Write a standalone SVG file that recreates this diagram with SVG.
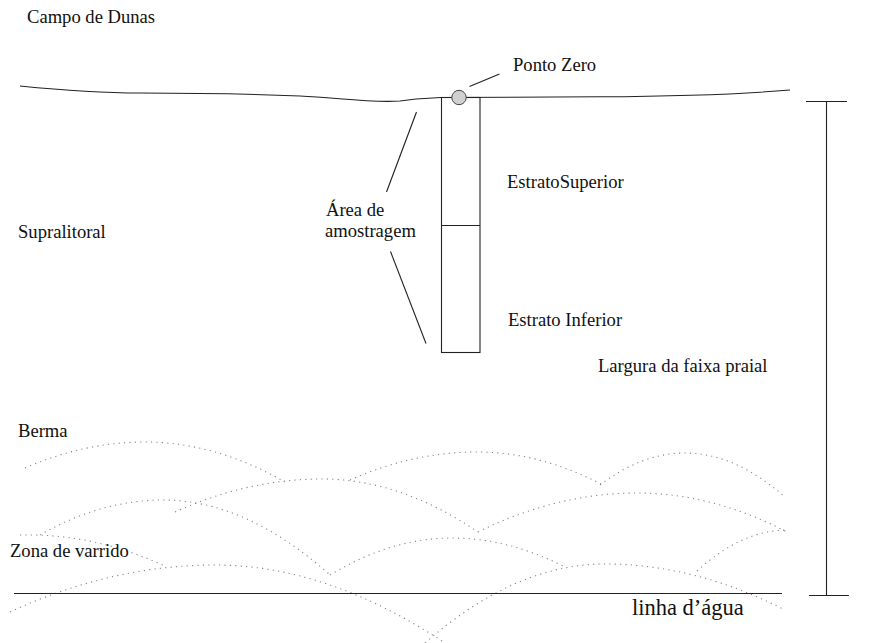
<svg xmlns="http://www.w3.org/2000/svg" width="886" height="643" viewBox="0 0 886 643">
<style>
text{font-family:"Liberation Serif","Times New Roman",serif;font-size:18.6px;fill:#111}
.ln{fill:none;stroke:#222;stroke-width:1.1}
.dot{fill:none;stroke:#888;stroke-width:1.1;stroke-dasharray:1.2 4.2}
</style>
<rect width="886" height="643" fill="#fff"/>
<g id="ground">
<path class="ln" d="M20,86 C60,90 100,93 140,93 C200,93 250,94 300,96 C340,98 370,103 400,101 L416,99 L441,97.5 L600,96.8 Q720,96 790,90"/>
</g>
<g id="swash">
<path class="dot" d="M25,468 Q85,442 145,442 Q215,442 285,482"/>
<path class="dot" d="M350,480 Q413,452 477,452 Q541,452 605,486"/>
<path class="dot" d="M600,485 Q642,453 685,453 Q735,453 785,497"/>
<path class="dot" d="M40,535 Q101,500 163,500 Q246,500 330,575"/>
<path class="dot" d="M175,512 Q248,479 322,479 Q400,479 478,532"/>
<path class="dot" d="M478,532 Q557,493 637,493 Q712,493 787,532"/>
<path class="dot" d="M20,535 L30,535 Q97,535 165,566"/>
<path class="dot" d="M10,612 Q112,565 215,565 Q327,565 445,643"/>
<path class="dot" d="M330,575 Q391,538 452,538 Q508,538 565,567"/>
<path class="dot" d="M425,643 Q515,564 605,564 Q695,564 785,610"/>
<path class="dot" d="M697,571 Q742,530 787,530"/>
</g>
<g id="waterline">
<line class="ln" x1="14" y1="593.5" x2="782" y2="593.5"/>
</g>
<g id="column">
<rect class="ln" x="441.5" y="97.5" width="38.5" height="255"/>
<line class="ln" x1="441.5" y1="225.5" x2="480" y2="225.5"/>
</g>
<g id="ponto-zero">
<circle cx="459" cy="97.5" r="7.2" fill="#d0d0d0" stroke="#444" stroke-width="1"/>
</g>
<g id="dimension">
<line class="ln" x1="826.5" y1="102" x2="826.5" y2="595"/>
<line class="ln" x1="806" y1="101.5" x2="847" y2="101.5"/>
<line class="ln" x1="809" y1="595.5" x2="849" y2="595.5"/>
</g>
<g id="connectors">
<line class="ln" x1="469.5" y1="86.5" x2="499.5" y2="74"/>
<line class="ln" x1="416.5" y1="112" x2="386.5" y2="192"/>
<line class="ln" x1="390.5" y1="251.5" x2="426" y2="343.5"/>
</g>
<g id="labels">
<text x="27" y="23">Campo de Dunas</text>
<text x="513" y="71">Ponto Zero</text>
<text x="507" y="188">EstratoSuperior</text>
<text x="508" y="326">Estrato Inferior</text>
<text x="326" y="216">Área de</text>
<text x="325" y="237">amostragem</text>
<text x="18" y="238">Supralitoral</text>
<text x="18" y="437">Berma</text>
<text x="10" y="557">Zona de varrido</text>
<text x="598" y="372">Largura da faixa praial</text>
<text x="632" y="615" style="font-size:22.5px">linha d’água</text>
</g>
</svg>
